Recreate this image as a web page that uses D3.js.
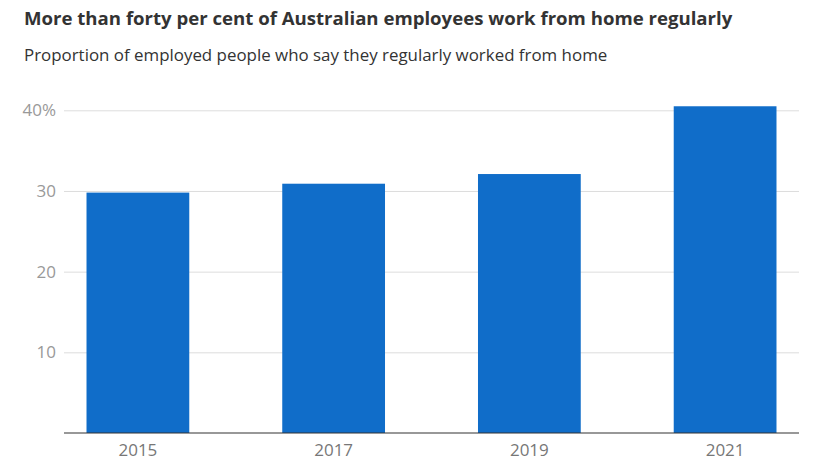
<!DOCTYPE html>
<html>
<head>
<meta charset="utf-8">
<script src="https://cdn.jsdelivr.net/npm/d3@7"></script>
<style>
  html, body { margin: 0; padding: 0; background: #fff; }
  svg { display: block; }
</style>
</head>
<body>
<svg id="chart" width="813" height="474"></svg>
<script>
const title = "More than forty per cent of Australian employees work from home regularly";
const subtitle = "Proportion of employed people who say they regularly worked from home";
const years = ["2015", "2017", "2019", "2021"];
const shares = [29.8, 30.9, 32.1, 40.5];
const yTicks = [10, 20, 30, 40];

const svg = d3.select("#chart");
const x0 = 64, x1 = 799, yBase = 433, yTop = 110.3;
const font = "'Open Sans', 'Noto Sans', sans-serif";

svg.append("text")
  .attr("x", 24).attr("y", 25)
  .attr("font-family", font)
  .attr("font-weight", 700).attr("font-size", 18.6)
  .attr("fill", "#333")
  .text(title);

svg.append("text")
  .attr("x", 24).attr("y", 61)
  .attr("font-family", font)
  .attr("font-size", 16.9)
  .attr("fill", "#333")
  .text(subtitle);

const x = d3.scaleBand().domain(years).range([x0, x1]).paddingInner(0.475).paddingOuter(0.115);
const y = d3.scaleLinear().domain([0, 40]).range([yBase, yTop]);

// gridlines + y labels
const yAxis = d3.axisLeft(y).tickValues(yTicks).tickSize(-(x1 - x0)).tickPadding(8)
  .tickFormat(d => d === 40 ? d + "%" : d);
const gy = svg.append("g").attr("transform", `translate(${x0},0)`).call(yAxis);
gy.attr("font-size", null).attr("font-family", null);
gy.select(".domain").remove();
gy.selectAll(".tick line").attr("stroke", "#ddd").attr("stroke-width", 1);
gy.selectAll(".tick text")
  .style("font-family", font)
  .style("font-size", "17px").attr("fill", "#999");

// bars
svg.append("g").selectAll("rect").data(years).join("rect")
  .attr("x", d => x(d))
  .attr("width", x.bandwidth())
  .attr("y", (d, i) => y(shares[i]))
  .attr("height", (d, i) => y(0) - y(shares[i]))
  .attr("fill", "#106dc9");

// x axis
const xAxis = d3.axisBottom(x).tickSize(0).tickPadding(11);
const gx = svg.append("g").attr("transform", `translate(0,${yBase})`).call(xAxis);
gx.attr("font-size", null).attr("font-family", null);
gx.select(".domain").attr("stroke", "#333").attr("stroke-width", 1.2)
  .attr("d", `M${x0},0H${x1}`);
gx.selectAll(".tick text")
  .style("font-family", font)
  .style("font-size", "17px").attr("fill", "#777");
</script>
</body>
</html>
